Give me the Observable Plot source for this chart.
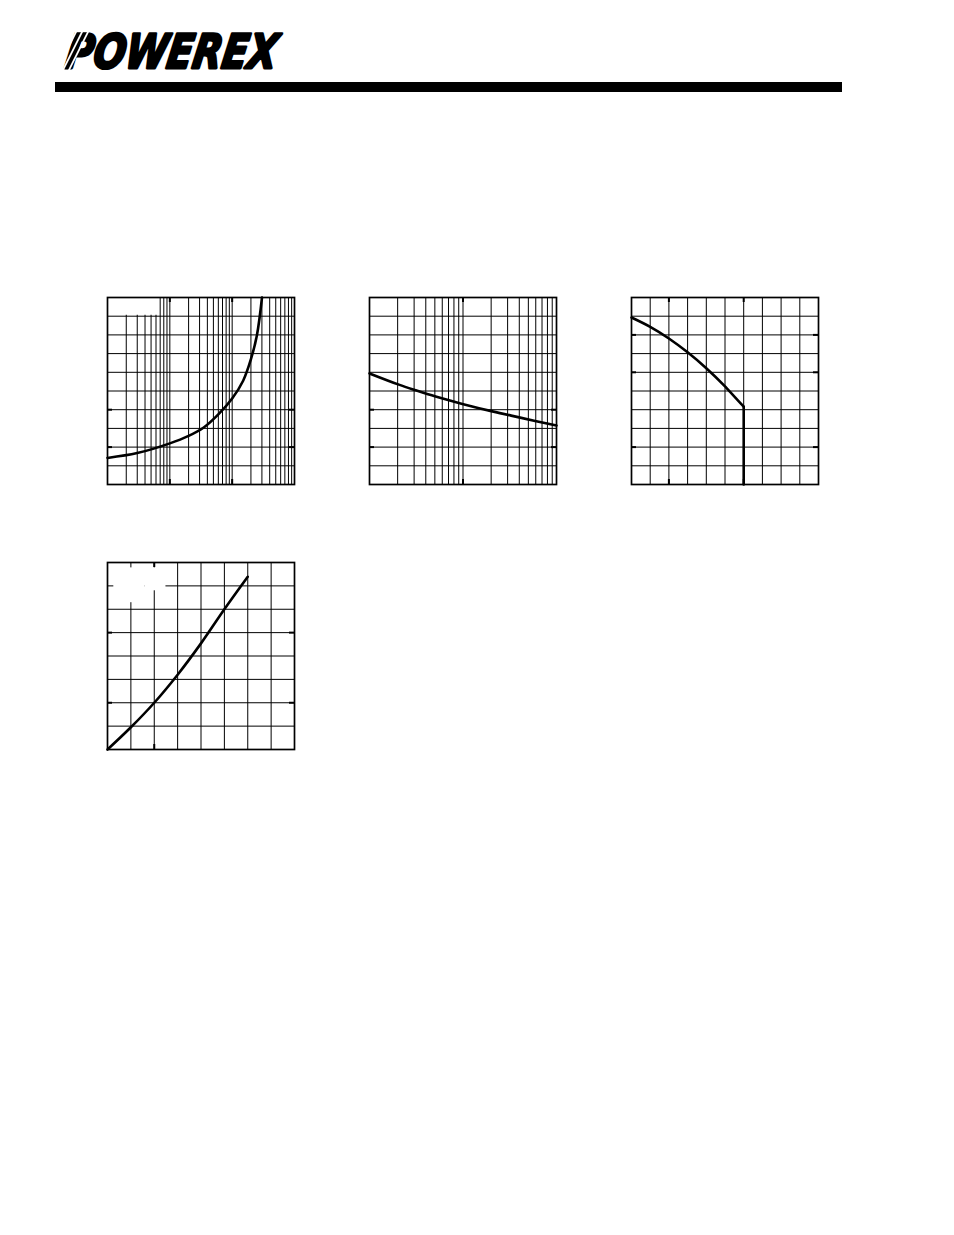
<!DOCTYPE html>
<html><head><meta charset="utf-8">
<script src="https://cdn.jsdelivr.net/npm/d3@7"></script>
<script src="https://cdn.jsdelivr.net/npm/@observablehq/plot@0.6"></script>
<style>
html,body{margin:0;padding:0;background:#fff;}
body{width:954px;height:1235px;position:relative;overflow:hidden;}
.chart{position:absolute;}
#logo{position:absolute;left:0;top:0;}
#bar{position:absolute;left:55px;top:82px;width:787px;height:10px;background:#000;}
</style></head><body>
<svg id="logo" width="340" height="110">
  <g transform="translate(0,68) skewX(-9) translate(0,-68)">
    <text x="64" y="68" font-family="DejaVu Sans" font-weight="bold" font-style="italic" font-size="47" textLength="211" lengthAdjust="spacingAndGlyphs" fill="#000" stroke="#000" stroke-width="2.8" stroke-linejoin="round">POWEREX</text>
  </g>
  <g stroke="#fff" stroke-width="1.7">
    <line x1="56" y1="72" x2="77" y2="30"/>
    <line x1="62" y1="72" x2="83" y2="30"/>
    <line x1="68" y1="72" x2="89" y2="30"/>
  </g>
</svg>
<div id="bar"></div>
<div id="c1" class="chart" style="left:97px;top:287px"></div>
<div id="c2" class="chart" style="left:359px;top:287px"></div>
<div id="c3" class="chart" style="left:621px;top:287px"></div>
<div id="c4" class="chart" style="left:97px;top:552px"></div>
<script>
// ---- Chart 1 (log x, 3 decades) ----
const c1X = [1, 3, 10, 20, 35, 60, 100, 150, 200, 250, 301];
const c1Y = [1.42, 1.68, 2.2, 2.6, 3.05, 3.75, 4.6, 5.55, 6.7, 8.0, 10.0];
const c1GridX = [2,3,4,5,6,7,8,9,10,20,30,40,50,60,70,80,90,100,200,300,400,500,600,700,800,900];
const c1GridY = [1,2,3,4,5,6,7,8,9];
const c1TicksX = [10, 100];
const c1TicksY = [2, 4];
const c1Box = [{x1: 1.43, x2: 6.8, y1: 9.05, y2: 10}];

// ---- Chart 2 (log x, 2 decades) ----
const c2X = [1, 2.06, 3.06, 5.1, 9.84, 20.6, 39.8, 100];
const c2Y = [5.94, 5.34, 5.05, 4.70, 4.31, 3.91, 3.59, 3.15];
const c2GridX = [2,3,4,5,6,7,8,9,10,20,30,40,50,60,70,80,90];
const c2GridY = [1,2,3,4,5,6,7,8,9];
const c2TicksX = [10];
const c2TicksY = [2, 4];

// ---- Chart 3 (linear 0-10) ----
const c3X = [0, 1, 2, 3, 4, 5, 6];
const c3Y = [8.93, 8.43, 7.81, 7.07, 6.22, 5.25, 4.16];
const c3DropX = [6, 6];
const c3DropY = [4.16, 0];
const c3GridX = [1,2,3,4,5,6,7,8,9];
const c3GridY = [1,2,3,4,5,6,7,8,9];
const c3TicksX = [2, 6];
const c3TicksY = [2, 6, 8];

// ---- Chart 4 (linear 0-8) ----
const c4X = [0, 1, 2, 3, 4, 5, 6];
const c4Y = [0, 0.95, 2.0, 3.2, 4.54, 6.0, 7.39];
const c4GridX = [1,2,3,4,5,6,7];
const c4GridY = [1,2,3,4,5,6,7];
const c4TicksX = [2];
const c4TicksY = [2, 5];
const c4Box = [{x1: 0.27, x2: 1.6, y1: 6.28, y2: 7.77}, {x1: 1.6, x2: 2.5, y1: 6.79, y2: 7.77}];

const W = 207, M = 10, INNER = W - 2 * M, TICK = 5;

function makeChart({xType, xDomain, yDomain, gridX, gridY, ticksX, ticksY, lines, boxes}) {
  const marks = [
    Plot.ruleX(gridX, {stroke: "#000", strokeWidth: 1}),
    Plot.ruleY(gridY, {stroke: "#000", strokeWidth: 1})
  ];
  if (boxes) marks.push(Plot.rect(boxes, {x1: "x1", x2: "x2", y1: "y1", y2: "y2", fill: "#fff"}));
  marks.push(
    Plot.frame({stroke: "#000", strokeWidth: 1.7}),
    Plot.tickY(ticksY, {insetRight: INNER - TICK, stroke: "#000", strokeWidth: 2}),
    Plot.tickY(ticksY, {insetLeft: INNER - TICK, stroke: "#000", strokeWidth: 2}),
    Plot.tickX(ticksX, {insetTop: INNER - TICK, stroke: "#000", strokeWidth: 2}),
    Plot.tickX(ticksX, {insetBottom: INNER - TICK, stroke: "#000", strokeWidth: 2})
  );
  for (const l of lines) {
    const data = l.x.map((x, i) => ({x, y: l.y[i]}));
    marks.push(Plot.line(data, {x: "x", y: "y", curve: l.curve, stroke: "#000", strokeWidth: 2.6}));
  }
  return Plot.plot({
    width: W, height: W, margin: M,
    style: {background: "transparent", overflow: "visible"},
    x: {type: xType, domain: xDomain, axis: null},
    y: {type: "linear", domain: yDomain, axis: null},
    marks
  });
}

document.getElementById("c1").append(makeChart({
  xType: "log", xDomain: [1, 1000], yDomain: [0, 10],
  gridX: c1GridX, gridY: c1GridY, ticksX: c1TicksX, ticksY: c1TicksY, boxes: c1Box,
  lines: [{x: c1X, y: c1Y, curve: "catmull-rom"}]
}));
document.getElementById("c2").append(makeChart({
  xType: "log", xDomain: [1, 100], yDomain: [0, 10],
  gridX: c2GridX, gridY: c2GridY, ticksX: c2TicksX, ticksY: c2TicksY,
  lines: [{x: c2X, y: c2Y, curve: "catmull-rom"}]
}));
document.getElementById("c3").append(makeChart({
  xType: "linear", xDomain: [0, 10], yDomain: [0, 10],
  gridX: c3GridX, gridY: c3GridY, ticksX: c3TicksX, ticksY: c3TicksY,
  lines: [{x: c3X, y: c3Y, curve: "catmull-rom"}, {x: c3DropX, y: c3DropY, curve: "linear"}]
}));
document.getElementById("c4").append(makeChart({
  xType: "linear", xDomain: [0, 8], yDomain: [0, 8],
  gridX: c4GridX, gridY: c4GridY, ticksX: c4TicksX, ticksY: c4TicksY, boxes: c4Box,
  lines: [{x: c4X, y: c4Y, curve: "catmull-rom"}]
}));
</script>
</body></html>
